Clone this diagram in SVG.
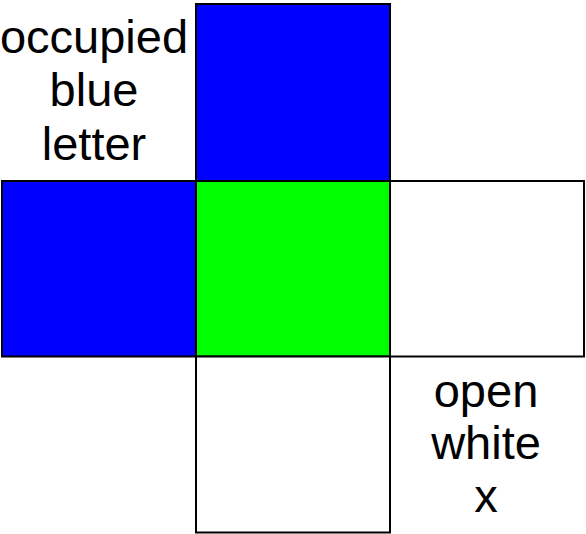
<svg xmlns="http://www.w3.org/2000/svg" width="586" height="534" viewBox="0 0 586 534">
<style>
.c{stroke:#000;stroke-width:2}
.t{font-family:"Liberation Sans",Arial,sans-serif;font-size:47px;fill:#000;text-anchor:middle}
</style>
<rect width="586" height="534" fill="#fff"/>
<g id="top"><rect class="c" x="196" y="4" width="194" height="177" fill="#0000ff"/></g>
<g id="left"><rect class="c" x="2" y="181" width="194" height="175.5" fill="#0000ff"/></g>
<g id="center"><rect class="c" x="196" y="181" width="194" height="175.5" fill="#00ff00"/></g>
<g id="right"><rect class="c" x="390" y="181" width="194" height="175.5" fill="#fff"/></g>
<g id="bottom"><rect class="c" x="196" y="356.5" width="194" height="176" fill="#fff"/></g>
<g id="label-occupied">
<text class="t" x="94" y="53">occupied</text>
<text class="t" x="94" y="106">blue</text>
<text class="t" x="94" y="160">letter</text>
</g>
<g id="label-open">
<text class="t" x="486" y="407">open</text>
<text class="t" x="486" y="459">white</text>
<text class="t" x="486" y="512">x</text>
</g>
<g id="connectors"></g>
</svg>
